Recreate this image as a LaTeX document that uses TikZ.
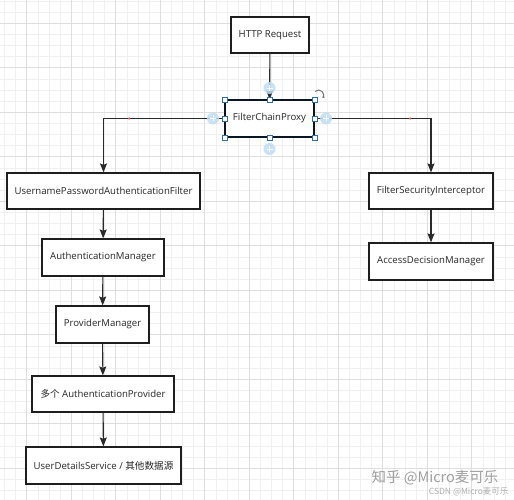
\documentclass[tikz,border=0pt]{standalone}
\usepackage{fontspec}
\setmainfont{Open Sans}
\newfontfamily\cjkf{Noto Sans CJK SC}
\usetikzlibrary{arrows.meta}
\definecolor{edgec}{HTML}{1E1E1E}
\definecolor{handleb}{HTML}{2F6FA8}
\definecolor{dotb}{HTML}{BFDDF7}
\begin{document}
\begin{tikzpicture}[x=1pt,y=-1pt,
  box/.style={draw=edgec,line width=1.2pt,fill=white,inner sep=0pt,font=\fontsize{9.6}{11}\selectfont,text=black!85},
  conn/.style={draw=edgec!95,line width=1.1pt,-{Stealth[length=9pt,width=7pt,inset=1.5pt]}},
  minorg/.style={draw=black!6,line width=0.5pt},
  majorg/.style={draw=black!13,line width=0.6pt},
  handle/.style={draw=handleb,fill=white,line width=0.6pt,minimum size=5pt,inner sep=0pt},
  plusdot/.style={fill=dotb,draw=none,circle,minimum size=12pt,inner sep=0pt},
  reddot/.style={fill=red!70,draw=none,circle,minimum size=2.5pt,inner sep=0pt}]
\useasboundingbox (0,0) rectangle (514,500);
\fill[white] (0,0) rectangle (514,500);
\begin{scope}
\clip (0,0) rectangle (514,500);
\foreach \i in {0,...,46} {
  \draw[minorg] ({4.45+11.125*\i},0) -- ({4.45+11.125*\i},500);
  \draw[minorg] (0,{0.95+11.125*\i}) -- (514,{0.95+11.125*\i});
}
\foreach \i in {0,...,11} {
  \draw[majorg] ({26.7+44.5*\i},0) -- ({26.7+44.5*\i},500);
  \draw[majorg] (0,{23.2+44.5*\i}) -- (514,{23.2+44.5*\i});
}
\end{scope}

% nodes
\node[box,minimum width=78pt,minimum height=36pt] (http) at (270,35) {HTTP Request};
\node[box,draw=black!80!handleb,minimum width=89pt,minimum height=37pt] (fcp) at (269.5,118.5) {FilterChainProxy};
\node[box,minimum width=193pt,minimum height=36pt] (upaf) at (103.5,191) {UsernamePasswordAuthenticationFilter};
\node[box,minimum width=124pt,minimum height=36pt] (fsi) at (431,191) {FilterSecurityInterceptor};
\node[box,minimum width=124pt,minimum height=37pt] (adm) at (431,261.5) {AccessDecisionManager};
\node[box,minimum width=122pt,minimum height=37pt] (am) at (103,257.5) {AuthenticationManager};
\node[box,minimum width=93pt,minimum height=37pt] (pm) at (102.5,324.5) {ProviderManager};
\node[box,minimum width=142pt,minimum height=36pt] (ap) at (103,394) {{\cjkf 多个} AuthenticationProvider};
\node[box,minimum width=155pt,minimum height=37pt] (uds) at (103.5,465.5) {UserDetailsService / {\cjkf 其他数据源}};

% connectors
\draw[conn] (http) -- (fcp);
\draw[conn] (fcp.west) -| (upaf.north);
\draw[conn] (fcp.east) -| (fsi.north);
\draw[conn] (upaf) -- (am);
\draw[conn] (am) -- (pm);
\draw[conn] (pm) -- (ap);
\draw[conn] (ap) -- (uds);
\draw[conn] (fsi) -- (adm);

% red waypoints
\node[reddot] (r1) at (129,118.5) {};
\node[reddot] (r2) at (410,118.5) {};

% selection overlay
\foreach \a in {north west,north,north east,west,east,south west,south,south east}
  \node[handle] at (fcp.\a) {};
\foreach \p/\n in {{(269.5,88)}/pt,{(269.5,149)}/pb,{(213,118.5)}/pl,{(326,118.5)}/pr} {
  \node[plusdot,opacity=0.85] (\n) at \p {};
  \draw[white,line width=0.8pt] ([xshift=-3pt]\n.center) -- ([xshift=3pt]\n.center);
  \draw[white,line width=0.8pt] ([yshift=-3pt]\n.center) -- ([yshift=3pt]\n.center);
}
\draw[black!55,line width=1pt,-{Stealth[length=3pt,width=3pt]}] (315,91.5) arc[start angle=135,end angle=-40,radius=5pt];

% watermark
\node[text=black!38,font=\fontsize{14.5}{16}\selectfont\cjkf,anchor=east] (wm1) at (502,478) {知乎 @Micro麦可乐};
\node[text=black!32,font=\fontsize{8.5}{10}\selectfont\cjkf,anchor=east] (wm2) at (512,492) {CSDN @Micro麦可乐};
\end{tikzpicture}
\end{document}
